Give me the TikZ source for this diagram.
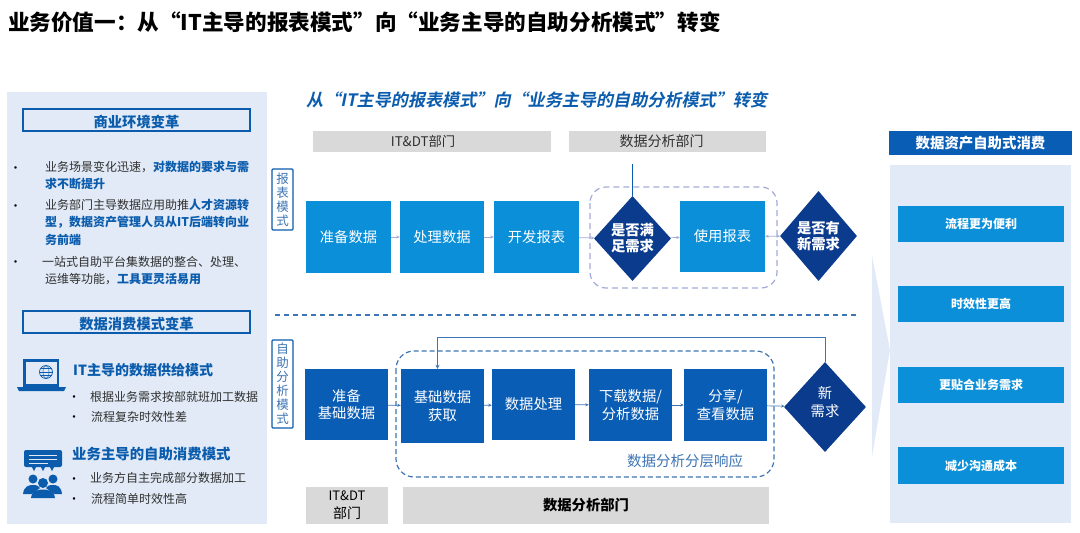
\documentclass[tikz,border=0pt]{standalone}
\usepackage{fontspec}
\setmainfont{Noto Sans CJK SC}
\newfontfamily\slantfont[FakeSlant=0.2,BoldFont={Noto Sans CJK SC Bold},BoldFeatures={FakeSlant=0.2}]{Noto Sans CJK SC}
\usepackage{tikz}
\usetikzlibrary{positioning, arrows.meta, shapes.geometric}
\definecolor{panelblue}{HTML}{E1EAF6}
\definecolor{deepblue}{HTML}{0B5CAD}
\definecolor{skyblue}{HTML}{0A8FD8}
\definecolor{navyblue}{HTML}{0B3B8C}
\definecolor{barblue}{HTML}{0A5DB5}
\definecolor{bargrey}{HTML}{D9D9D9}
\definecolor{softline}{HTML}{A3AAD8}
\definecolor{midline}{HTML}{3D74B2}
\definecolor{bodytext}{HTML}{303030}
\newcommand{\fsz}[2]{\fontsize{#1pt}{#2pt}\selectfont}
\newcommand{\hl}[1]{\textcolor{deepblue}{\textbf{#1}}}
\tikzset{
  toprow/.style={fill=skyblue, text=white, font=\fsz{14.3}{18}, align=center, inner sep=0pt},
  lowrow/.style={fill=barblue, text=white, font=\fsz{14.3}{17.5}, align=center, inner sep=0pt},
  decide/.style={diamond, aspect=0.9, fill=navyblue, text=white, font=\fsz{14.3}{16}\bfseries, align=center, inner sep=0pt},
  greybar/.style={fill=bargrey, text=bodytext, font=\fsz{14}{18}, align=center, inner sep=0pt},
  headbox/.style={draw=deepblue, line width=1.4pt, fill=panelblue, text=deepblue, font=\fsz{14.3}{16}\bfseries, inner sep=0pt, text height=14pt, text depth=0pt},
  sidetag/.style={draw=deepblue, line width=1.2pt, rounded corners=1pt, fill=white, text=midline, font=\fsz{12.5}{14}, align=center, inner sep=0pt},
  card/.style={fill=skyblue, text=white, font=\fsz{12}{14}\bfseries, inner sep=0pt},
  para/.style={anchor=north west, align=left, text=bodytext, inner sep=0pt, font=\fsz{12}{17.5}},
  dotmark/.style={anchor=center, text=black, inner sep=0pt, font=\fsz{12}{12}},
  flow/.style={-{Stealth[length=3.5pt,width=3pt]}, line width=0.7pt},
}
\begin{document}
\begin{tikzpicture}[x=1pt, y=-1pt]
    \useasboundingbox (0,0) rectangle (1080,533);
    % titles
    \node[anchor=west, inner sep=0pt, font=\fsz{21.6}{26}\bfseries, text=black] (maintitle) at (8,22) {业务价值一：从“IT主导的报表模式”向“业务主导的自助分析模式”转变};
    \node[anchor=west, inner sep=0pt, font=\slantfont\fsz{17.1}{20}\bfseries, text=deepblue] (subtitle) at (306,100) {从“IT主导的报表模式”向“业务主导的自助分析模式”转变};

    % left panel
    \fill[panelblue] (7,92) rectangle (267,524);
    \node[headbox, minimum width=227pt, minimum height=22pt] (envhead) at (136.5,120) {商业环境变革};
    \node[para] (env1) at (45,160.5) {业务场景变化迅速，\hl{对数据的要求与需}\\\hl{求不断提升}};
    \node[para] (env2) at (45,199) {业务部门主导数据应用助推\hl{人才资源转}\\\hl{型，数据资产管理人员从IT后端转向业}\\\hl{务前端}};
    \node[para] (env3) at (42,256) {一站式自助平台集数据的整合、处理、\\\hspace{3pt}运维等功能，\hl{工具更灵活易用}};
    \foreach \n/\y in {d1/170, d2/208, d3/264}
        \node[dotmark] (\n) at (15.5,\y) {•};
    \node[headbox, minimum width=227pt, minimum height=22pt] (usehead) at (136.5,322) {数据消费模式变革};

    % laptop icon
    \draw[deepblue, line width=2.4pt, fill=panelblue] (24.5,360.5) rectangle (58,385.5);
    \fill[deepblue] (17,387) -- (66,387) -- (64,391) -- (19,391) -- cycle;
    \draw[deepblue, line width=0.7pt] (46,372) circle (6.5);
    \draw[deepblue, line width=0.5pt] (46,372) ellipse (3 and 6.5);
    \draw[deepblue, line width=0.5pt] (39.5,372) -- (52.5,372) (40.5,368.5) -- (51.5,368.5) (40.5,375.5) -- (51.5,375.5);

    \node[anchor=west, inner sep=0pt, font=\fsz{14}{16}\bfseries, text=deepblue] (itmode) at (73,370) {IT主导的数据供给模式};
    \node[para] (it1) at (90,391) {根据业务需求按部就班加工数据};
    \node[para] (it2) at (91,411) {流程复杂时效性差};
    \node[anchor=west, inner sep=0pt, font=\fsz{14.4}{16}\bfseries, text=deepblue] (bizmode) at (72,454) {业务主导的自助消费模式};
    \node[para] (biz1) at (90,472.5) {业务方自主完成部分数据加工};
    \node[para] (biz2) at (91,493) {流程简单时效性高};
    \foreach \n/\y in {d4/399, d5/419, d6/481, d7/501}
        \node[dotmark] (\n) at (74,\y) {•};

    % people icon
    \fill[deepblue, rounded corners=2pt] (24,450) rectangle (62,467);
    \foreach \tx in {34,43,52}
        \fill[deepblue] (\tx-2.5,466) -- (\tx+2.5,466) -- (\tx,471) -- cycle;
    \draw[panelblue, line width=0.9pt] (29,455) -- (57,455) (29,459) -- (57,459) (29,463) -- (48,463);
    \fill[deepblue] (33,479) circle (4.5) (53,479) circle (4.5) (43,483) circle (5);
    \fill[deepblue] (23,494) .. controls (24,486) and (29,485) .. (33,485) .. controls (37,485) and (39,486) .. (40,488) -- (32,494) -- cycle;
    \fill[deepblue] (62,494) .. controls (61,486) and (57,485) .. (53,485) .. controls (49,485) and (47,486) .. (46,488) -- (54,494) -- cycle;
    \fill[deepblue] (31,498) .. controls (32,491) and (37,489.5) .. (43,489.5) .. controls (49,489.5) and (54,491) .. (55,498) -- cycle;

    % department bars
    \node[greybar, minimum width=238pt, minimum height=21pt, font=\fsz{13.3}{18}] (dept1) at (432,141.5) {IT\&DT部门\hspace{18pt}};
    \node[greybar, minimum width=197pt, minimum height=21pt] (dept2) at (667.5,141.5) {数据分析部门\hspace{12pt}};

    % report mode
    \draw[softline, line width=1.2pt, dash pattern=on 6pt off 4pt, rounded corners=16pt] (590,187) rectangle (777,288);
    \node[sidetag, minimum width=21pt, minimum height=61pt] (tagreport) at (282.5,199.5) {报\\表\\模\\式};
    \node[toprow, minimum width=85pt, minimum height=72pt] (r1) at (348.5,237) {准备数据};
    \node[toprow, minimum width=84pt, minimum height=72pt] (r2) at (442,237) {处理数据};
    \node[toprow, minimum width=85pt, minimum height=72pt] (r3) at (536.5,237) {开发报表};
    \node[decide, minimum width=77pt, minimum height=85pt] (q1) at (632.5,238.5) {是否满\\足需求};
    \node[toprow, minimum width=85pt, minimum height=71pt] (r4) at (722.5,236.5) {使用报表};
    \node[decide, minimum width=77pt, minimum height=90pt] (q2) at (818.5,236) {是否有\\新需求};
    \coordinate (qtop) at (632.5,164);
    \foreach \a/\b in {r1/r2, r2/r3, r3/q1, q1/r4}
        \draw[flow, softline] (\a) -- (\b);
    \draw[{Stealth[length=3.5pt,width=3pt]}-{Stealth[length=3.5pt,width=3pt]}, softline, line width=0.7pt] (r4) -- (q2);
    \draw[deepblue, line width=1pt] (qtop) -- (q1.north);

    % separator
    \coordinate (sepa) at (275,315);
    \coordinate (sepb) at (856,315);
    \draw[midline, line width=1.2pt, dash pattern=on 5pt off 4pt] (sepa) -- (sepb);

    % self service mode
    \draw[midline, line width=1.2pt, dash pattern=on 5pt off 3pt, rounded corners=18pt] (396,351) rectangle (774,477);
    \node[sidetag, minimum width=21pt, minimum height=88pt] (tagself) at (282.5,384) {自\\助\\分\\析\\模\\式};
    \node[lowrow, minimum width=83pt, minimum height=71pt] (s1) at (346.5,404.5) {准备\\基础数据};
    \node[lowrow, minimum width=83pt, minimum height=74pt] (s2) at (442.5,406) {基础数据\\获取};
    \node[lowrow, minimum width=83pt, minimum height=71pt] (s3) at (533.5,404.5) {数据处理};
    \node[lowrow, minimum width=83pt, minimum height=72pt] (s4) at (630.5,405) {下载数据/\\分析数据};
    \node[lowrow, minimum width=83pt, minimum height=72pt] (s5) at (725.5,405) {分享/\\查看数据};
    \node[decide, minimum width=82pt, minimum height=90pt, font=\fsz{14.3}{18}] (q3) at (825,407) {新\\需求\\[-7pt]\mbox{}};
    \foreach \a/\b in {s1/s2, s2/s3, s3/s4, s4/s5, s5/q3}
        \draw[flow, midline] (\a) -- (\b);
    \coordinate (loopa) at (825,337);
    \coordinate (loopb) at (437.5,337);
    \draw[midline, line width=1pt, -{Stealth[length=4pt,width=4pt]}] (q3.north) -- (loopa) -- (loopb) -- (s2.north -| loopb);
    \node[anchor=center, inner sep=0pt, font=\fsz{14.5}{16}, text=midline] (layer) at (685,460.5) {数据分析分层响应};
    \node[greybar, minimum width=82pt, minimum height=37pt, text=black] (dept3) at (347,505.5) {{\fsz{13}{18}IT\&DT}\hspace{9pt}\\部门\hspace{6pt}};
    \node[greybar, minimum width=366pt, minimum height=37pt, font=\fsz{14.3}{16}\bfseries, text=black] (dept4) at (586,505.5) {数据分析部门};

    % result panel
    \fill[panelblue] (872,255) -- (890,350) -- (872,457) -- cycle;
    \fill[panelblue] (890,165) rectangle (1071,523);
    \node[fill=barblue, text=white, font=\fsz{14.4}{16}\bfseries, minimum width=183pt, minimum height=24pt, inner sep=0pt] (rhead) at (980.5,143) {数据资产自助式消费};
    \foreach \n/\y/\tx in {c1/224/流程更为便利, c2/304/时效性更高, c3/385/更贴合业务需求, c4/465.5/减少沟通成本}
        \node[card, minimum width=166pt, minimum height=36.5pt] (\n) at (981,\y) {\tx};
\end{tikzpicture}
\end{document}
